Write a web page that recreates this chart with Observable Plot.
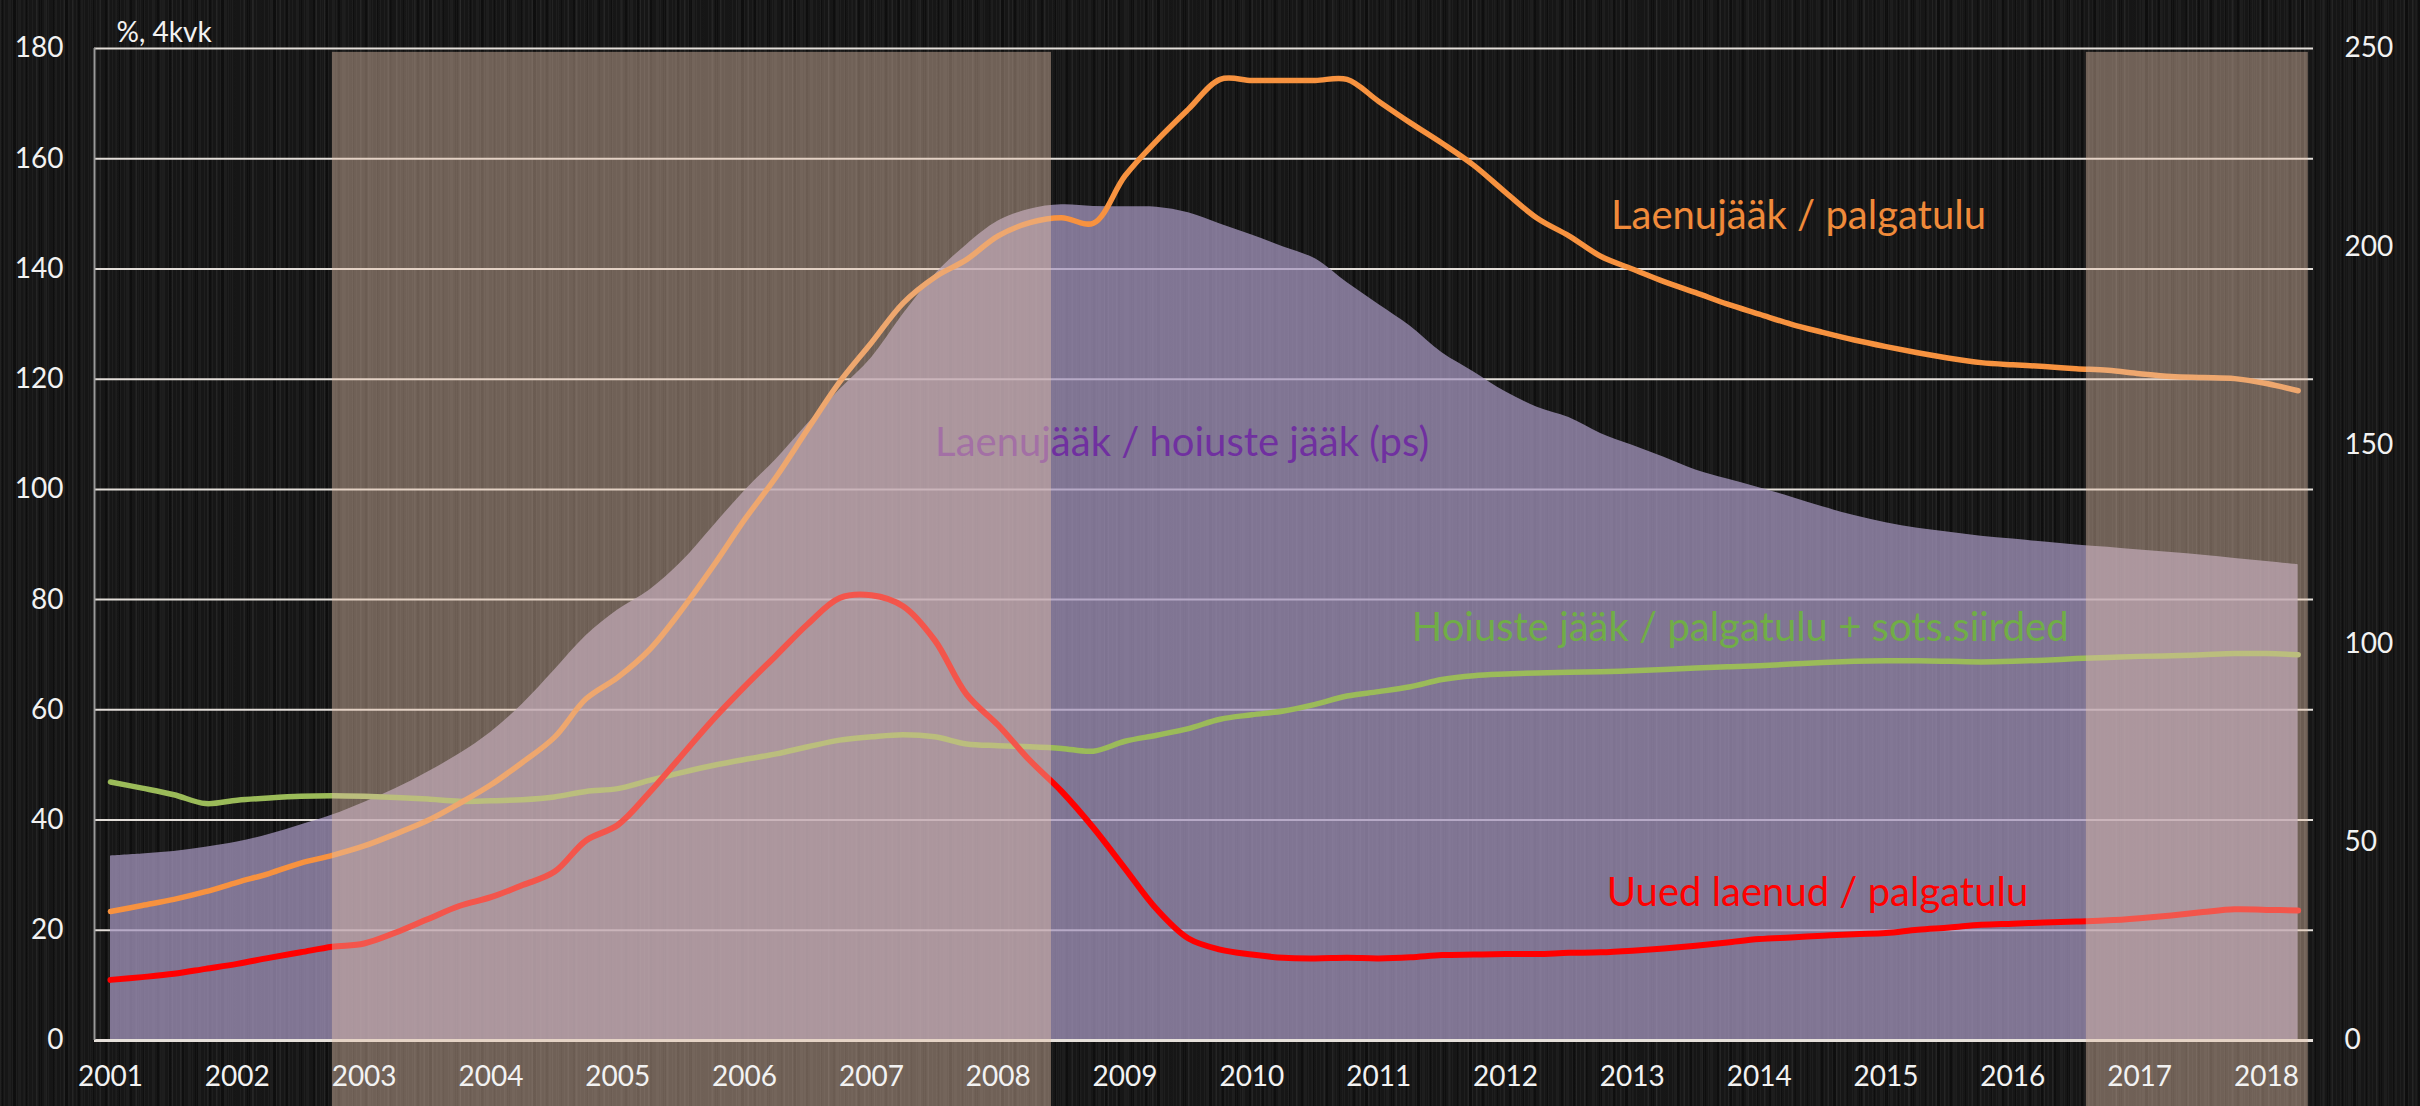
<!DOCTYPE html>
<html>
<head>
<meta charset="utf-8">
<script src="https://cdn.jsdelivr.net/npm/d3@7"></script>
<script src="https://cdn.jsdelivr.net/npm/@observablehq/plot@0.6"></script>
<style>
html, body { margin: 0; padding: 0; width: 2420px; height: 1106px; overflow: hidden; }
body {
  background-color: #161616;
  background-image:
    repeating-linear-gradient(90deg, rgba(255,255,255,0.035) 0 1px, transparent 1px 4px),
    repeating-linear-gradient(90deg, rgba(255,255,255,0.03) 0 2px, transparent 2px 9px),
    repeating-linear-gradient(90deg, rgba(0,0,0,0.35) 0 3px, transparent 3px 13px),
    repeating-linear-gradient(90deg, rgba(255,255,255,0.025) 0 1px, transparent 1px 23px);
}
#chart svg { display: block; }
</style>
</head>
<body>
<div id="chart"></div>
<script>
// ---- DATA ----
const quarterLabels = [
  "2001Q1","2001Q2","2001Q3","2001Q4","2002Q1","2002Q2","2002Q3","2002Q4",
  "2003Q1","2003Q2","2003Q3","2003Q4","2004Q1","2004Q2","2004Q3","2004Q4",
  "2005Q1","2005Q2","2005Q3","2005Q4","2006Q1","2006Q2","2006Q3","2006Q4",
  "2007Q1","2007Q2","2007Q3","2007Q4","2008Q1","2008Q2","2008Q3","2008Q4",
  "2009Q1","2009Q2","2009Q3","2009Q4","2010Q1","2010Q2","2010Q3","2010Q4",
  "2011Q1","2011Q2","2011Q3","2011Q4","2012Q1","2012Q2","2012Q3","2012Q4",
  "2013Q1","2013Q2","2013Q3","2013Q4","2014Q1","2014Q2","2014Q3","2014Q4",
  "2015Q1","2015Q2","2015Q3","2015Q4","2016Q1","2016Q2","2016Q3","2016Q4",
  "2017Q1","2017Q2","2017Q3","2017Q4","2018Q1","2018Q2"
];

// Uued laenud / palgatulu (left axis, %)
const uuedLaenud = [
  11.0, 11.5, 12.1, 13.0,  13.9, 15.0, 16.0, 17.0,
  17.6, 19.6, 22.0, 24.4,  26.0, 28.2, 30.6, 36.3,
  39.1, 45.0, 51.6, 58.2,  64.2, 69.9, 75.6, 80.3,
  80.8, 78.8, 72.6, 62.8,  57.2, 50.8, 45.2, 38.6,
  31.2, 23.8, 18.5, 16.5,  15.6, 15.0, 14.9, 15.0,
  14.9, 15.1, 15.5, 15.6,  15.7, 15.7, 15.9, 16.0,
  16.3, 16.7, 17.2, 17.8,  18.4, 18.7, 19.0, 19.3,
  19.5, 20.1, 20.5, 21.0,  21.2, 21.4, 21.6, 21.8,
  22.2, 22.7, 23.3, 23.8,  23.7, 23.6
];

// Laenujääk / palgatulu (left axis, %)
const laenujaakPalgatulu = [
  23.4, 24.5, 25.6, 27.0,  28.7, 30.3, 32.2, 33.6,
  35.3, 37.5, 39.9, 43.0,  46.4, 50.5, 55.0, 62.0,
  65.9, 70.9, 78.0, 86.0,  94.5, 102.3, 111.0, 119.5,
  126.6, 133.8, 138.5, 141.7,  146.0, 148.4, 149.3, 148.3,
  156.9, 163.3, 169.0, 174.4,  174.2, 174.2, 174.2, 174.4,
  170.4, 166.5, 162.8, 158.8,  153.9, 149.2, 146.0, 142.3,
  140.0, 137.7, 135.7, 133.6,  131.8, 130.0, 128.5, 127.1,
  125.9, 124.8, 123.8, 123.0,  122.6, 122.3, 121.9, 121.6,
  121.0, 120.5, 120.3, 120.1,  119.2, 117.9
];

// Hoiuste jääk / palgatulu + sots.siirded (left axis, %)
const hoiusteJaak = [
  46.9, 45.8, 44.6, 43.0,  43.6, 44.0, 44.3, 44.4,
  44.3, 44.1, 43.8, 43.4,  43.5, 43.7, 44.2, 45.2,
  45.7, 47.2, 48.6, 49.9,  51.0, 52.0, 53.3, 54.5,
  55.1, 55.5, 55.1, 53.8,  53.5, 53.3, 53.0, 52.5,
  54.3, 55.4, 56.6, 58.3,  59.1, 59.8, 61.0, 62.5,
  63.3, 64.2, 65.5, 66.2,  66.5, 66.7, 66.8, 66.9,
  67.1, 67.3, 67.6, 67.8,  68.0, 68.3, 68.6, 68.8,
  68.9, 68.9, 68.8, 68.7,  68.8, 69.0, 69.3, 69.5,
  69.7, 69.8, 70.0, 70.2,  70.2, 70.0
];

// Laenujääk / hoiuste jääk (right axis, %)
const laenujaakHoiused = [
  46.5, 47.0, 47.6, 48.7,  50.0, 51.9, 54.3, 56.8,
  60.0, 63.5, 67.6, 72.2,  77.7, 84.8, 93.3, 102.0,
  108.5, 113.5, 120.5, 129.5,  138.5, 146.5, 155.5, 164.0,
  172.0, 183.0, 193.0, 200.5,  206.5, 209.5, 210.6, 210.2,
  210.1, 210.0, 208.6, 205.8,  203.0, 200.0, 197.0, 191.0,
  185.5, 180.0, 173.3, 168.5,  163.5, 159.6, 157.0, 153.0,
  150.0, 147.0, 143.8, 141.5,  139.3, 137.0, 134.5, 132.3,
  130.5, 129.1, 128.1, 127.1,  126.4, 125.6, 124.9, 124.3,
  123.6, 123.0, 122.3, 121.5,  120.7, 119.9
];

const yearTicks = [2001,2002,2003,2004,2005,2006,2007,2008,2009,2010,2011,2012,2013,2014,2015,2016,2017,2018];
const leftTicks = [0,20,40,60,80,100,120,140,160,180];
const rightTicks = [0,50,100,150,200,250];
const axisTitle = ["%, 4kvk"];

// shaded periods (years)
const shadedPeriods = [
  {start: 2002.75, end: 2008.42},
  {start: 2016.58, end: 2018.33}
];

const seriesLabels = [
  {text: "Laenujääk / palgatulu", x: 2014.31, y: 149.5, color: "#F08A3A"},
  {text: "Laenujääk / hoiuste jääk (ps)", x: 2009.45, y: 108.3, color: "#7030A0"},
  {text: "Hoiuste jääk / palgatulu + sots.siirded", x: 2013.85, y: 74.8, color: "#70AD47"},
  {text: "Uued laenud / palgatulu", x: 2014.46, y: 26.7, color: "#FF0000"}
];

// ---- BUILD ----
const leftMax = 180, rightMax = 250;
const r2l = leftMax / rightMax;
const parseQ = s => +s.slice(0, 4) + (+s.slice(5) - 1) / 4;
const rows = quarterLabels.map((q, i) => ({
  t: parseQ(q),
  red: uuedLaenud[i],
  orange: laenujaakPalgatulu[i],
  green: hoiusteJaak[i],
  purple: laenujaakHoiused[i] * r2l
}));

const xDomain = [2000.874, 2018.371];
const overlayTop = 179.3, overlayBottom = -12.5;
const font = "Lato, 'Open Sans', sans-serif";

const chart = Plot.plot({
  width: 2420,
  height: 1106,
  marginLeft: 94,
  marginRight: 107,
  marginTop: 48,
  marginBottom: 66,
  style: {background: "transparent", color: "#f2f2f2", fontFamily: font, overflow: "visible"},
  x: {domain: xDomain},
  y: {domain: [0, leftMax]},
  marks: [
    Plot.ruleY(leftTicks.filter(d => d > 0), {stroke: "#e2ddd8", strokeWidth: 2}),
    Plot.areaY(rows, {x: "t", y: "purple", fill: "#a697c0", fillOpacity: 0.74, curve: "catmull-rom"}),
    Plot.line(rows, {x: "t", y: "green", stroke: "#9BBB59", strokeWidth: 5.5, curve: "catmull-rom"}),
    Plot.line(rows, {x: "t", y: "orange", stroke: "#F7923F", strokeWidth: 5.5, curve: "catmull-rom"}),
    Plot.line(rows, {x: "t", y: "red", stroke: "#FF0000", strokeWidth: 6, curve: "catmull-rom"}),
    Plot.text(seriesLabels, {x: "x", y: "y", text: "text", fill: "color", fontSize: 40}),
    Plot.ruleY([0], {stroke: "#e6e0da", strokeWidth: 3}),
    Plot.ruleX([xDomain[0]], {y1: 0, y2: leftMax, stroke: "#9a9a9a", strokeWidth: 2}),
    Plot.rect(shadedPeriods, {x1: "start", x2: "end", y1: overlayBottom, y2: overlayTop, fill: "rgb(228,194,170)", fillOpacity: 0.44}),
    Plot.axisX({ticks: yearTicks, tickFormat: d => String(d), tickSize: 0, tickPadding: 26, fontSize: 28, label: null}),
    Plot.axisY({anchor: "left", ticks: leftTicks, tickFormat: d => String(d), tickSize: 0, tickPadding: 31, fontSize: 28, label: null}),
    Plot.axisY({anchor: "right", ticks: rightTicks.map(v => v * r2l), tickFormat: v => String(Math.round(v / r2l)), tickSize: 0, tickPadding: 31, fontSize: 28, label: null}),
    Plot.text(axisTitle, {frameAnchor: "top-left", text: d => d, dx: 22, dy: -26, textAnchor: "start", fontSize: 28, fill: "#f2f2f2"})
  ]
});

document.getElementById("chart").appendChild(chart);
</script>
</body>
</html>
